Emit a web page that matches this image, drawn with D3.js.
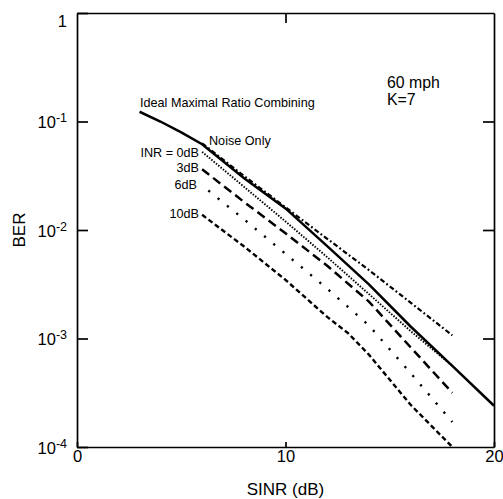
<!DOCTYPE html>
<html>
<head>
<meta charset="utf-8">
<script src="https://cdn.jsdelivr.net/npm/d3@7"></script>
<style>
body { margin: 0; background: #fff; }
svg { font-family: "Liberation Sans", Arial, sans-serif; }
</style>
</head>
<body>
<div id="chart"></div>
<script>
// BER vs SINR (60 mph, K=7)
const sinrIdeal = [3, 4, 5, 6, 8, 10, 12, 14, 16, 18, 20];
const berIdeal = [0.123, 0.100, 0.0794, 0.0617, 0.0302, 0.0158, 0.0071, 0.00316, 0.00129, 0.00056, 0.00024];

const sinrNoise = [6, 8, 10, 12, 14, 16, 18];
const berNoise = [0.063, 0.0316, 0.0162, 0.0083, 0.00427, 0.00214, 0.00107];

const sinrInr = [6, 8, 10, 12, 14, 16, 18];
const berInr0 = [0.0525, 0.0251, 0.0120, 0.00562, 0.00257, 0.00117, 0.00056];
const berInr3 = [0.0363, 0.0182, 0.00933, 0.00468, 0.00219, 0.00083, 0.000316];
const berInr6 = [0.0257, 0.0126, 0.00603, 0.00288, 0.00132, 0.00048, 0.00017];

const sinrInr10 = [6, 8, 10, 12, 13, 14, 16, 18];
const berInr10 = [0.0138, 0.00708, 0.00347, 0.00158, 0.00112, 0.00071, 0.000245, 0.0001];

const xTicks = [0, 10, 20];
const yTicks = [1, 1e-1, 1e-2, 1e-3, 1e-4];
const yTickExps = ["", "-1", "-2", "-3", "-4"];

// scale a text's font so it spans a given width
function fitFont(sel, targetW)
{
    let fs = parseFloat(sel.attr('font-size'));
    let w = sel.node().getComputedTextLength();
    return w > 0 ? fs * targetW / w : fs;
}

class BerChart
{
    constructor(_config)
    {
        this.config =
        {
            parentElement: _config.parentElement,
            containerWidth: _config.containerWidth || 503,
            containerHeight: _config.containerHeight || 499,
            margin: _config.margin || {top: 13, right: 9, bottom: 52, left: 77}
        }

        this.series = [
            {key: "ideal", x: sinrIdeal, y: berIdeal, dash: null, width: 2.5},
            {key: "noise", x: sinrNoise, y: berNoise, dash: "5,2.5,1.8,2.5", width: 2.2},
            {key: "inr0", x: sinrInr, y: berInr0, dash: "1.5,1.5", width: 1.9},
            {key: "inr3", x: sinrInr, y: berInr3, dash: "9,5", width: 2.5},
            {key: "inr6", x: sinrInr, y: berInr6, dash: "2.2,9.8", width: 2.4, offset: -8},
            {key: "inr10", x: sinrInr10, y: berInr10, dash: "5,3", width: 2.4}
        ];

        this.initVis();
    }

    initVis()
    {
        let vis = this;

        vis.width = vis.config.containerWidth - vis.config.margin.left - vis.config.margin.right;
        vis.height = vis.config.containerHeight - vis.config.margin.top - vis.config.margin.bottom;

        vis.svg = d3.select(vis.config.parentElement).append('svg')
            .attr('width', vis.config.containerWidth)
            .attr('height', vis.config.containerHeight);

        vis.g = vis.svg.append('g')
            .attr('transform', `translate(${vis.config.margin.left}, ${vis.config.margin.top})`);

        vis.x = d3.scaleLinear()
            .domain([0, 20])
            .range([0, vis.width]);

        vis.y = d3.scaleLog()
            .domain([1e-4, 1])
            .range([vis.height, 0]);

        vis.renderVis();
    }

    renderVis()
    {
        let vis = this;

        // frame + ticks (all ticks point inward)
        let bottom = vis.g.append('g')
            .attr('transform', `translate(0, ${vis.height})`)
            .call(d3.axisBottom(vis.x).tickValues(xTicks).tickSize(-5).tickSizeOuter(0).tickPadding(3).tickFormat(d3.format('d')));
        bottom.selectAll('.tick text').attr('font-size', 16.5);

        vis.g.append('g')
            .call(d3.axisTop(vis.x).tickValues([10]).tickSize(-10).tickSizeOuter(0).tickFormat(''));

        let left = vis.g.append('g')
            .call(d3.axisLeft(vis.y).tickValues(yTicks).tickSize(-11).tickSizeOuter(0).tickPadding(10).tickFormat(''));

        left.selectAll('.tick text')
            .attr('font-size', 16.5)
            .attr('dy', null)
            .attr('x', -10)
            .attr('y', (d, i) => i === 0 ? 13 : 6)
            .each(function(d, i) {
                let t = d3.select(this);
                if (i === 0) { t.text('1'); return; }
                t.append('tspan').text('10');
                t.append('tspan').attr('dy', -6).attr('font-size', 12.5).text(yTickExps[i]);
            });

        vis.g.append('g')
            .attr('transform', `translate(${vis.width}, 0)`)
            .call(d3.axisRight(vis.y).tickValues([1e-1, 1e-2, 1e-3]).tickSize(-11).tickSizeOuter(0).tickFormat(''));

        vis.g.selectAll('.domain').attr('stroke', '#000').attr('stroke-width', 1.7);
        vis.g.selectAll('.tick line').attr('stroke', '#000').attr('stroke-width', 1.7);
        vis.g.selectAll('.tick text').attr('fill', '#000').attr('font-family', '"Liberation Sans", Arial, sans-serif');

        // curves
        let line = d3.line()
            .x(d => vis.x(d[0]))
            .y(d => vis.y(d[1]));

        vis.g.append('g')
            .selectAll('path')
            .data(vis.series)
            .join('path')
                .attr('d', s => line(s.x.map((v, i) => [v, s.y[i]])))
                .attr('fill', 'none')
                .attr('stroke', '#000')
                .attr('stroke-width', s => s.width)
                .attr('stroke-dasharray', s => s.dash)
                .attr('stroke-dashoffset', s => s.offset || 0);

        // curve labels
        let notes = [
            {text: 'Ideal Maximal Ratio Combining', x: 140, y: 107, anchor: 'start'},
            {text: 'Noise Only', x: 209, y: 145, anchor: 'start'},
            {text: 'INR = 0dB', x: 199, y: 157, anchor: 'end'},
            {text: '3dB', x: 199, y: 172, anchor: 'end'},
            {text: '6dB', x: 197, y: 189, anchor: 'end'},
            {text: '10dB', x: 199, y: 218, anchor: 'end'}
        ];

        let noteText = vis.svg.append('g')
            .selectAll('text')
            .data(notes)
            .join('text')
                .attr('x', d => d.x)
                .attr('y', d => d.y)
                .attr('text-anchor', d => d.anchor)
                .attr('font-size', 13)
                .text(d => d.text);

        let fs = fitFont(noteText.filter((d, i) => i === 0), 175);
        noteText.attr('font-size', fs);

        let cond = vis.svg.append('g')
            .attr('font-size', 15);
        let mph = cond.append('text')
            .attr('x', 387)
            .attr('y', 88)
            .attr('font-size', 15)
            .text('60 mph');
        let fs2 = fitFont(mph, 53);
        mph.attr('font-size', fs2);
        cond.append('text')
            .attr('x', 387)
            .attr('y', 105)
            .attr('font-size', fs2)
            .text('K=7');

        vis.svg.append('text')
            .attr('x', vis.config.margin.left + vis.width / 2)
            .attr('y', 495)
            .attr('text-anchor', 'middle')
            .attr('font-size', 17)
            .text('SINR (dB)');

        vis.svg.append('text')
            .attr('transform', `translate(25, ${vis.config.margin.top + vis.height / 2}) rotate(-90)`)
            .attr('text-anchor', 'middle')
            .attr('font-size', 17)
            .text('BER');
    }
}

new BerChart({parentElement: '#chart'});
</script>
</body>
</html>
